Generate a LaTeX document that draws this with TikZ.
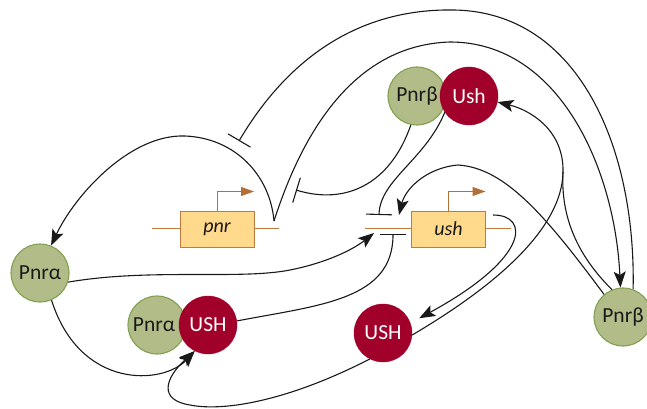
\documentclass[tikz,border=0pt]{standalone}
\usepackage{fontspec}
\setmainfont{Carlito}
\usetikzlibrary{arrows.meta}
\definecolor{pgreen}{RGB}{178,188,136}
\definecolor{pgreenline}{RGB}{130,160,80}
\definecolor{ured}{RGB}{160,0,42}
\definecolor{boxfill}{RGB}{255,217,140}
\definecolor{boxline}{RGB}{192,122,62}
\definecolor{prom}{RGB}{180,110,55}
\definecolor{conn}{RGB}{25,25,25}
\begin{document}
\begin{tikzpicture}[x=1pt,y=-1pt,
  prot/.style={circle, minimum size=58pt, inner sep=0pt, font=\fontsize{21.5}{21.5}\selectfont},
  pgr/.style={prot, fill=pgreen, draw=pgreenline, line width=1.1pt, text=black!90},
  ure/.style={prot, fill=ured, draw=ured, text=white},
  genebox/.style={draw=boxline, fill=boxfill, line width=1pt, minimum width=74pt, minimum height=36pt, inner sep=0pt, font=\fontsize{20}{20}\selectfont\itshape, text=black!90},
  geneline/.style={draw=boxline, line width=1pt},
  promo/.style={draw=prom, line width=1pt, -{Triangle[length=13pt,width=9pt]}},
  act/.style={draw=conn, line width=1.1pt, -{Stealth[length=16pt,width=12pt,inset=3.5pt]}},
  rep/.style={draw=conn, line width=1.1pt, -{Bar[width=26pt]}},
  link/.style={draw=conn, line width=1.1pt}
]
\useasboundingbox (0,0) rectangle (647,409);
% gene lines
\coordinate (pnrL) at (152,228);
\coordinate (pnrR) at (279,228);
\coordinate (ushL) at (365,228);
\coordinate (ushR) at (511,228);
\draw[geneline] (pnrL) -- (pnrR);
\draw[geneline] (ushL) -- (ushR);
\node[genebox] (pnr) at (217,229) {pnr};
\node[genebox] (ush) at (448.5,229) {ush};
\draw[promo] (pnr.north) |- ++(37,-19);
\draw[promo] (ush.north) |- ++(37,-19);
% proteins
\node[pgr] (PA1) at (40,273) {Pnrα};
\node[pgr] (PB1) at (417,96) {Pnrβ};
\node[ure] (U1) at (469,96) {Ush};
\node[pgr] (PA2) at (157,325) {\hspace*{-6pt}Pnrα};
\node[ure] (U2) at (208,325) {USH};
\node[ure] (U3) at (383,333) {USH};
\node[pgr] (PB2) at (623,317) {Pnrβ};
% connector end points
\coordinate (pnrV) at (274,221);
\coordinate (barA) at (239,141);
\coordinate (barB) at (296,190);
\coordinate (ushTopBar) at (379,215);
\coordinate (ushBotBar) at (393,234);
\coordinate (ushAct1) at (399,215);
\coordinate (ushAct2) at (374,233);
\coordinate (ushOut) at (493,215);
\coordinate (mrg) at (563,172);
% connectors
\draw[act] (pnrV) .. controls (270,175) and (235,138) .. (185,136) .. controls (130,134) and (75,195) .. (PA1.68);
\draw[act] (pnrV) .. controls (300,140) and (350,45) .. (450,42) .. controls (560,42) and (615,170) .. (PB2.95);
\draw[rep] (PB2.70) .. controls (636,150) and (580,12) .. (454,10) .. controls (340,8) and (275,80) .. (barA);
\draw[rep] (PB1.258) .. controls (390,185) and (345,205) .. (barB);
\draw[rep] (U1.214) .. controls (425,160) and (380,180) .. (ushTopBar);
\draw[act] (PB2.130) .. controls (545,215) and (505,168) .. (458,165) .. controls (425,168) and (405,190) .. (ushAct1);
\draw[link] (PB2.112) .. controls (572,250) and (561,210) .. (mrg);
\draw[act] (U3.-4) .. controls (480,295) and (562,235) .. (mrg) .. controls (564,130) and (530,110) .. (U1.-12);
\draw[act, shorten >=10pt] (ushOut) .. controls (530,215) and (530,258) .. (U3.20);
\draw[act] (U3.243) .. controls (290,400) and (225,412) .. (190,405) .. controls (158,400) and (165,378) .. (U2.243);
\draw[act] (PA1.293) .. controls (80,390) and (163,385) .. (U2.243);
\draw[act] (PA1.342) .. controls (150,268) and (240,280) .. (290,270) .. controls (330,262) and (355,248) .. (ushAct2);
\draw[rep] (U2.8) .. controls (320,305) and (393,300) .. (ushBotBar);
\end{tikzpicture}
\end{document}
